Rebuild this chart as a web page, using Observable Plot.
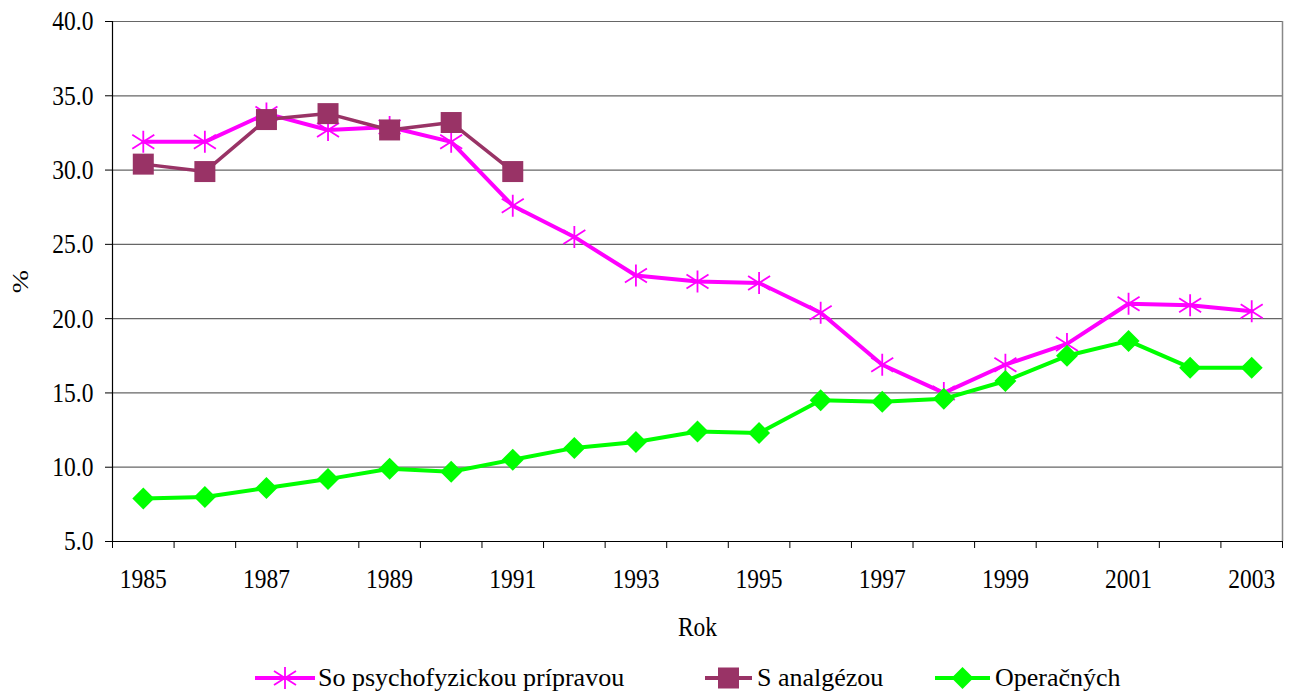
<!DOCTYPE html>
<html>
<head>
<meta charset="utf-8">
<script src="https://cdn.jsdelivr.net/npm/d3@7"></script>
<script src="https://cdn.jsdelivr.net/npm/@observablehq/plot@0.6"></script>
<style>
  html, body { margin: 0; padding: 0; background: #fff; }
  #wrap { position: relative; width: 1289px; height: 691px; font-family: "Liberation Serif", "Times New Roman", serif; }
  .leg { position: absolute; top: 660px; height: 36px; line-height: 36px; font-size: 26px; color: #000; white-space: nowrap; }
  .sw { position: absolute; top: 660px; }
</style>
</head>
<body>
<div id="wrap"></div>
<script>
const years = [1985,1986,1987,1988,1989,1990,1991,1992,1993,1994,1995,1996,1997,1998,1999,2000,2001,2002,2003];
const psycho = [31.9,31.9,33.8,32.7,32.9,31.9,27.6,25.5,22.9,22.5,22.4,20.4,16.9,15.0,16.9,18.3,21.0,20.9,20.5];
const analgYears = [1985,1986,1987,1988,1989,1990,1991];
const analg = [30.4,29.9,33.4,33.8,32.7,33.2,29.9];
const oper = [7.9,8.0,8.6,9.2,9.9,9.7,10.5,11.3,11.7,12.4,12.3,14.5,14.4,14.6,15.8,17.5,18.5,16.7,16.7];
const yTicks = [5,10,15,20,25,30,35,40];
const xLabelYears = [1985,1987,1989,1991,1993,1995,1997,1999,2001,2003];
const seriesNames = ["So psychofyzickou prípravou", "S analgézou", "Operačných"];
const colors = ["#FF00FF", "#993366", "#00FF00"];

const psychoData = years.map((y, i) => ({year: y, value: psycho[i]}));
const analgData = analgYears.map((y, i) => ({year: y, value: analg[i]}));
const operData = years.map((y, i) => ({year: y, value: oper[i]}));
const boundaries = years.map(y => y - 0.5).concat([years[years.length - 1] + 0.5]);

const star = {draw(ctx) {
  ctx.moveTo(0, -11); ctx.lineTo(0, 11);
  ctx.moveTo(-11, -7); ctx.lineTo(11, 7);
  ctx.moveTo(-11, 7); ctx.lineTo(11, -7);
}};
const square = {draw(ctx) { ctx.rect(-10.5, -10.5, 21, 21); }};
const diamond = {draw(ctx) {
  ctx.moveTo(0, -11); ctx.lineTo(11, 0); ctx.lineTo(0, 11); ctx.lineTo(-11, 0); ctx.closePath();
}};

const chart = Plot.plot({
  width: 1289,
  height: 650,
  marginLeft: 112,
  marginRight: 7,
  marginTop: 21,
  marginBottom: 109,
  style: {fontFamily: "Liberation Serif, Times New Roman, serif", fontSize: "28px", color: "#000", background: "#fff"},
  x: {domain: [boundaries[0], boundaries[boundaries.length - 1]]},
  y: {domain: [5, 40]},
  marks: [
    Plot.ruleY(yTicks.filter(d => d > 5), {stroke: "#666", strokeWidth: 1.2, strokeOpacity: 1}),
    Plot.ruleX([boundaries[boundaries.length - 1]], {stroke: "#888", strokeWidth: 1.5}),
    Plot.ruleX([boundaries[0]], {stroke: "#000", strokeWidth: 1.2}),
    Plot.ruleY([5], {stroke: "#000", strokeWidth: 1.2}),
    Plot.axisY({ticks: yTicks, tickFormat: d => d.toFixed(1), tickSize: 7, tickPadding: 12, fontSize: 28, label: null, stroke: "#000"}),
    Plot.axisX({ticks: boundaries, tickFormat: () => "", tickSize: 7, label: null, stroke: "#000"}),
    Plot.axisX({ticks: xLabelYears, tickFormat: d => String(d), tickSize: 0, tickPadding: 27, fontSize: 28, label: null}),
    Plot.text(["Rok"], {frameAnchor: "bottom", dy: 86, fontSize: 28, lineAnchor: "middle"}),
    Plot.text(["%"], {frameAnchor: "left", dx: -92, rotate: -90, fontSize: 28, textAnchor: "middle", lineAnchor: "middle"}),
    Plot.line(psychoData, {x: "year", y: "value", stroke: colors[0], strokeWidth: 4}),
    Plot.dot(psychoData, {x: "year", y: "value", symbol: star, stroke: colors[0], strokeWidth: 1.8, fill: "none"}),
    Plot.line(analgData, {x: "year", y: "value", stroke: colors[1], strokeWidth: 3.5}),
    Plot.dot(analgData, {x: "year", y: "value", symbol: square, fill: colors[1], stroke: "none"}),
    Plot.line(operData, {x: "year", y: "value", stroke: colors[2], strokeWidth: 4}),
    Plot.dot(operData, {x: "year", y: "value", symbol: diamond, fill: colors[2], stroke: "none"})
  ]
});

// condense the serif text horizontally like the original rendering
chart.querySelectorAll("text").forEach(t => {
  let tr = t.getAttribute("transform");
  if (!tr) {
    const x = t.getAttribute("x") || 0, y = t.getAttribute("y") || 0;
    t.removeAttribute("x"); t.removeAttribute("y");
    tr = `translate(${x},${y})`;
  }
  if (/rotate/.test(tr)) t.setAttribute("transform", tr + " scale(1,0.85)");
  else t.setAttribute("transform", tr + " scale(0.84,1)");
});

const wrap = document.getElementById("wrap");
wrap.appendChild(chart);

// legend
const legItems = [
  {x0: 255, x1: 315, tx: 318, sym: "star"},
  {x0: 705, x1: 752, tx: 757, sym: "square"},
  {x0: 935, x1: 990, tx: 995, sym: "diamond"}
];
legItems.forEach((it, i) => {
  const w = it.x1 - it.x0;
  const svg = d3.create("svg").attr("class", "sw").attr("width", w).attr("height", 36)
    .style("left", it.x0 + "px");
  svg.append("line").attr("x1", 0).attr("x2", w).attr("y1", 18).attr("y2", 18)
    .attr("stroke", colors[i]).attr("stroke-width", 4);
  const g = svg.append("g").attr("transform", `translate(${w / 2},18)`);
  if (it.sym === "star") {
    g.append("path").attr("d", "M0,-11L0,11M-11,-7L11,7M-11,7L11,-7").attr("stroke", colors[i]).attr("stroke-width", 1.8).attr("fill", "none");
  } else if (it.sym === "square") {
    g.append("rect").attr("x", -10.5).attr("y", -10.5).attr("width", 21).attr("height", 21).attr("fill", colors[i]);
  } else {
    g.append("path").attr("d", "M0,-11L11,0L0,11L-11,0Z").attr("fill", colors[i]);
  }
  wrap.appendChild(svg.node());
  const t = document.createElement("div");
  t.className = "leg";
  t.style.left = it.tx + "px";
  t.textContent = seriesNames[i];
  wrap.appendChild(t);
});
</script>
</body>
</html>
